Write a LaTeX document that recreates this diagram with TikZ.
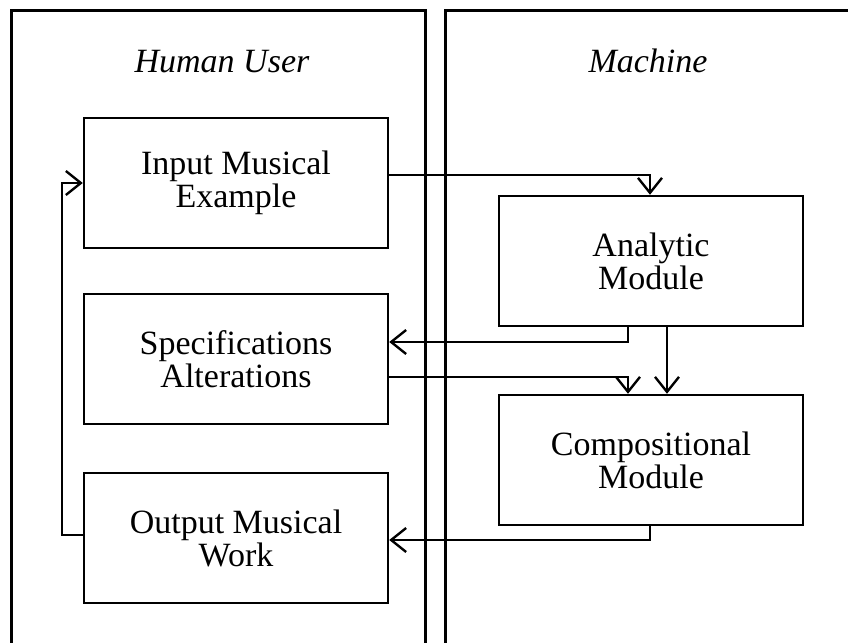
\documentclass[tikz,border=0pt]{standalone}
\usepackage{fontspec}
\setmainfont{Liberation Serif}
\usetikzlibrary{arrows.meta}
\begin{document}
\begin{tikzpicture}[x=0.5pt,y=-0.5pt,
  panel/.style={line width=1.5pt},
  blk/.style={draw,line width=1.2pt,minimum width=152pt,minimum height=65pt,inner sep=0pt,align=center,font=\fontsize{17}{16.5}\selectfont},
  ttl/.style={anchor=base,font=\fontsize{17}{16.5}\selectfont\itshape},
  arr/.style={line width=1.2pt,-{Straight Barb[length=7.5pt,width=12pt]}}]
\useasboundingbox (0,0) rectangle (848,643);
\begin{scope}
\clip (0,0) rectangle (848,643);
\draw[panel] (11,660) -- (11,10) -- (425,10) -- (425,660);
\draw[panel] (445,660) -- (445,10) -- (870,10);
\end{scope}
\node[ttl] (tU) at (222,72) {Human User};
\node[ttl] (tM) at (648,72) {Machine};
\node[blk] (inp) at (236,183) {Input Musical\\Example};
\node[blk] (spec) at (236,359) {Specifications\\Alterations};
\node[blk] (out) at (236,538) {Output Musical\\Work};
\node[blk] (ana) at (651,261) {Analytic\\Module};
\node[blk] (comp) at (651,460) {Compositional\\Module};
\draw[arr] ([yshift=4pt]inp.east) -| ([xshift=-0.5pt]ana.north);
\draw[arr] ([xshift=-11.5pt]ana.south) |- ([yshift=8.5pt]spec.east);
\draw[arr] ([xshift=8pt]ana.south) -- ([xshift=8pt]comp.north);
\draw[arr] ([yshift=-9pt]spec.east) -| ([xshift=-11.5pt]comp.north);
\draw[arr] ([xshift=-0.5pt]comp.south) |- ([yshift=-1pt]out.east);
\draw[arr] ([yshift=1.5pt]out.west) -- ++(-21,0) |- (inp.west);
\end{tikzpicture}
\end{document}
